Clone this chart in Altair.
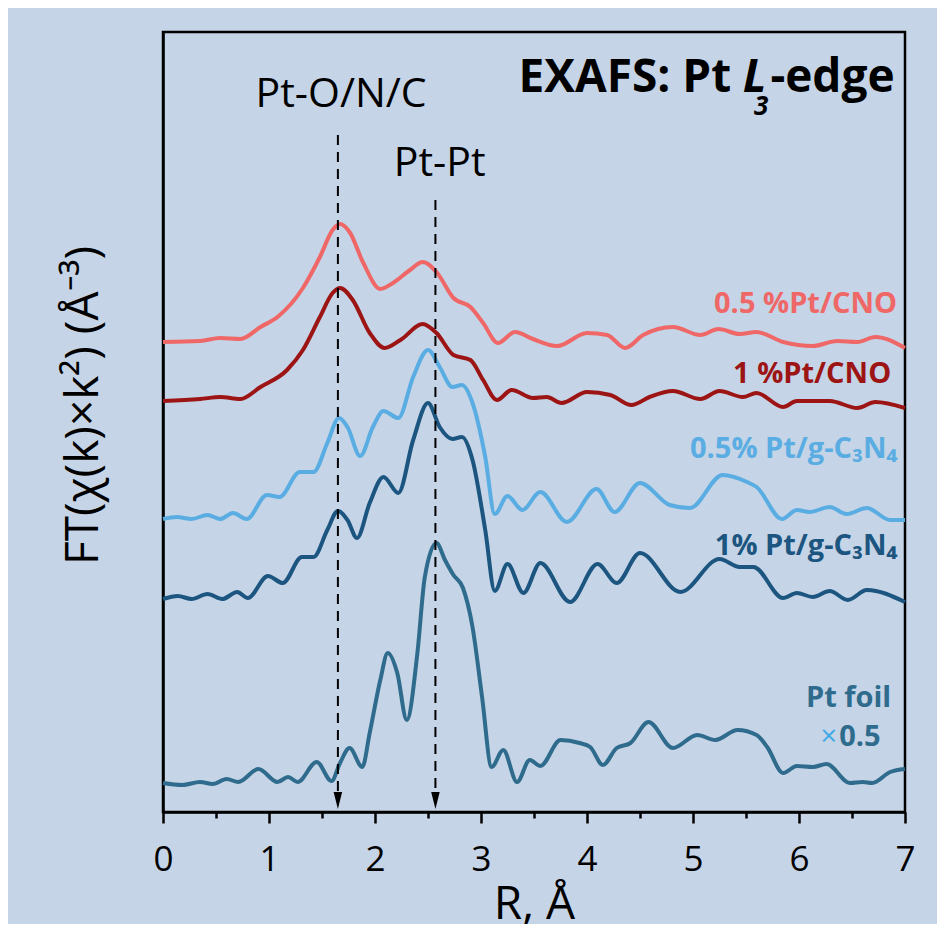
import altair as alt
import pandas as pd

# ---------------- data (R in Å, intensity in arbitrary offset units) ----------------
R_CNO05 = [0.0, 0.35, 0.54, 0.73, 0.92, 1.08, 1.32, 1.48, 1.60, 1.67, 1.76, 1.89, 2.05, 2.17, 2.33, 2.45,
           2.58, 2.74, 2.90, 3.02, 3.16, 3.32, 3.49, 3.72, 4.00, 4.19, 4.36, 4.53, 4.81, 5.07, 5.24, 5.44,
           5.60, 5.85, 6.13, 6.36, 6.55, 6.72, 7.00]
V_CNO05 = [470, 471, 474, 473, 485, 495, 524, 555, 582, 588, 580, 549, 523, 529, 542, 550,
           540, 514, 505, 489, 469, 480, 473, 466, 479, 477, 464, 477, 485, 477, 483, 478,
           480, 470, 466, 471, 470, 475, 464]

R_CNO1 = [0.0, 0.35, 0.54, 0.73, 0.92, 1.17, 1.32, 1.48, 1.60, 1.67, 1.79, 1.95, 2.09, 2.24, 2.45, 2.58,
          2.74, 2.90, 3.02, 3.15, 3.29, 3.49, 3.62, 3.76, 4.00, 4.22, 4.42, 4.59, 4.81, 5.07, 5.25, 5.47,
          5.60, 5.85, 5.98, 6.29, 6.55, 6.72, 7.00]
V_CNO1 = [411, 413, 415, 413, 425, 442, 462, 495, 519, 524, 512, 479, 464, 472, 488, 479,
          457, 452, 432, 412, 422, 414, 415, 409, 420, 417, 407, 415, 421, 413, 421, 415,
          419, 405, 411, 411, 404, 410, 404]

R_GCN05 = [0.0, 0.13, 0.27, 0.42, 0.54, 0.66, 0.79, 0.98, 1.10, 1.29, 1.42, 1.55, 1.66, 1.74, 1.86, 1.98,
           2.08, 2.22, 2.36, 2.50, 2.61, 2.73, 2.82, 2.92, 3.04, 3.13, 3.25, 3.39, 3.56, 3.81, 4.09, 4.26,
           4.50, 4.78, 4.97, 5.28, 5.51, 5.60, 5.84, 5.98, 6.10, 6.29, 6.45, 6.64, 6.86, 7.00]
V_GCN05 = [293, 295, 293, 297, 293, 299, 293, 317, 315, 340, 340, 369, 394, 385, 356, 385,
           401, 394, 435, 462, 445, 425, 427, 409, 355, 298, 316, 302, 320, 290, 323, 300,
           329, 307, 304, 337, 330, 325, 293, 302, 300, 305, 298, 304, 292, 292]

R_GCN1 = [0.0, 0.14, 0.27, 0.42, 0.56, 0.70, 0.80, 0.99, 1.13, 1.31, 1.42, 1.55, 1.65, 1.74, 1.83, 1.95,
          2.08, 2.22, 2.36, 2.50, 2.61, 2.73, 2.82, 2.92, 3.04, 3.13, 3.25, 3.40, 3.56, 3.84, 4.10, 4.28,
          4.50, 4.88, 5.25, 5.44, 5.57, 5.85, 5.98, 6.13, 6.29, 6.46, 6.64, 7.00]
V_GCN1 = [213, 216, 213, 218, 213, 220, 214, 236, 229, 255, 255, 282, 301, 292, 274, 309,
          335, 319, 372, 409, 385, 373, 375, 352, 282, 221, 248, 219, 249, 210, 248, 229,
          259, 220, 253, 245, 245, 214, 219, 215, 221, 212, 222, 210]

R_FOIL = [0.0, 0.18, 0.35, 0.47, 0.60, 0.71, 0.90, 1.08, 1.18, 1.27, 1.45, 1.59, 1.67, 1.76, 1.88, 1.95,
          2.05, 2.12, 2.21, 2.30, 2.40, 2.47, 2.58, 2.66, 2.74, 2.83, 2.92, 3.01, 3.10, 3.21, 3.34, 3.46,
          3.56, 3.75, 3.93, 4.03, 4.15, 4.28, 4.41, 4.58, 4.81, 5.04, 5.21, 5.42, 5.60, 5.70, 5.85, 5.98,
          6.13, 6.26, 6.48, 6.60, 6.69, 6.86, 7.00]
V_FOIL = [29, 27, 30, 28, 33, 30, 43, 30, 35, 30, 50, 31, 49, 64, 45, 79,
          132, 159, 139, 92, 159, 235, 269, 252, 237, 224, 185, 115, 45, 62, 30, 52,
          46, 72, 69, 65, 47, 64, 69, 90, 64, 77, 72, 82, 77, 65, 39, 46,
          45, 48, 29, 30, 29, 40, 43]

SERIES = ["0.5 %Pt/CNO", "1 %Pt/CNO", "0.5% Pt/g-C3N4", "1% Pt/g-C3N4", "Pt foil x0.5"]
COLORS = ["#ef6767", "#9c1414", "#5aade2", "#1b5580", "#2e6b8c"]

ARROW_R = [1.65, 2.57]
ARROW_TOP = [677, 612]
ARROW_BASE = [20, 20]
ARROW_TIP = [11.5, 11.5]

TICKS = [i * 0.5 for i in range(15)]

# ---------------- build table ----------------
rows = []
for name, rs, vs in zip(SERIES, [R_CNO05, R_CNO1, R_GCN05, R_GCN1, R_FOIL],
                        [V_CNO05, V_CNO1, V_GCN05, V_GCN1, V_FOIL]):
    for r, v in zip(rs, vs):
        rows.append({"series": name, "R": r, "value": v})
df = pd.DataFrame(rows)

FONT = "Open Sans"

x_scale = alt.Scale(domain=[0, 7], nice=False, zero=False)
y_scale = alt.Scale(domain=[0, 780], nice=False, zero=False)

x_axis = alt.Axis(
    values=TICKS,
    labelExpr="datum.value % 1 == 0 ? format(datum.value, 'd') : ''",
    tickSize={"condition": {"test": "datum.value % 1 != 0", "value": 6}, "value": 11},
    tickColor="black", tickWidth=2.5,
    domainColor="black", domainWidth=2.5,
    labelFont=FONT, labelFontSize=35, labelColor="black", labelPadding=19,
    labelOverlap=False, labelFlush=False,
    grid=False,
    title="R, Å", titleFont=FONT, titleFontSize=46, titleFontWeight="normal",
    titleColor="black", titleBaseline="alphabetic", titleX=371, titleY=106, titleAlign="center",
)
y_axis = alt.Axis(
    ticks=False, labels=False, grid=False,
    domainColor="black", domainWidth=2.5,
    title="FT(χ(k)×k²) (Å⁻³)", titleFont=FONT, titleFontSize=46, titleFontWeight="normal",
    titleColor="black", titleAngle=270, titleBaseline="alphabetic", titleAlign="center",
    titleX=-66, titleY=373,
)

lines = alt.Chart(df).mark_line(strokeWidth=4, interpolate="monotone").encode(
    x=alt.X("R:Q", scale=x_scale, axis=x_axis),
    y=alt.Y("value:Q", scale=y_scale, axis=y_axis),
    color=alt.Color("series:N", scale=alt.Scale(domain=SERIES, range=COLORS), legend=None),
)

arrows_df = pd.DataFrame({"R": ARROW_R, "top": ARROW_TOP, "base": ARROW_BASE, "tip": ARROW_TIP})
rules = alt.Chart(arrows_df).mark_rule(strokeDash=[10, 7], strokeWidth=2, color="black").encode(
    x="R:Q", y="top:Q", y2="base:Q"
)
heads = alt.Chart(arrows_df).mark_point(
    shape="M-0.5,-1L0.5,-1L0,1Z", size=289, filled=True, color="black", opacity=1
).encode(x="R:Q", y="tip:Q")


def label(text, x, y, color, size, weight="bold", align="right", style="normal"):
    return alt.Chart(pd.DataFrame({"t": [text]})).mark_text(
        align=align, baseline="alphabetic", font=FONT, fontSize=size,
        fontWeight=weight, fontStyle=style, color=color
    ).encode(text="t:N", x=alt.datum(x), y=alt.datum(y))


texts = [
    label("0.5 %Pt/CNO", 6.925, 499, COLORS[0], 29),
    label("1 %Pt/CNO", 6.87, 429, COLORS[1], 29),
    label("0.5% Pt/g-C₃N₄", 6.93, 354, COLORS[2], 29),
    label("1% Pt/g-C₃N₄", 6.93, 257, COLORS[3], 29),
    label("Pt foil", 6.87, 105, COLORS[4], 29),
    label("0.5", 6.77, 66, COLORS[4], 29),
    label("×", 6.36, 66, "#3fa9e6", 29, weight="normal"),
    label("Pt-O/N/C", 1.68, 705, "black", 41, weight="normal", align="center"),
    label("Pt-Pt", 2.61, 636, "black", 41, weight="normal", align="center"),
    label("EXAFS: Pt", 5.36, 720, "black", 46),
    label("L", 5.47, 720, "black", 46, align="left", style="italic"),
    label("3", 5.575, 697, "black", 26, align="left", style="italic"),
    label("-edge", 5.73, 720, "black", 46, align="left"),
]

chart = alt.layer(lines, rules, heads, *texts).properties(
    width=742, height=780,
    autosize=alt.AutoSizeParams(type="none"),
    padding={"left": 155, "top": 24, "right": 32, "bottom": 112},
    background="#c5d4e6",
).configure_view(stroke="black", strokeWidth=2.5, fill="#c5d4e6")

chart.save("out.html", embed_options={"renderer": "svg", "actions": False})
